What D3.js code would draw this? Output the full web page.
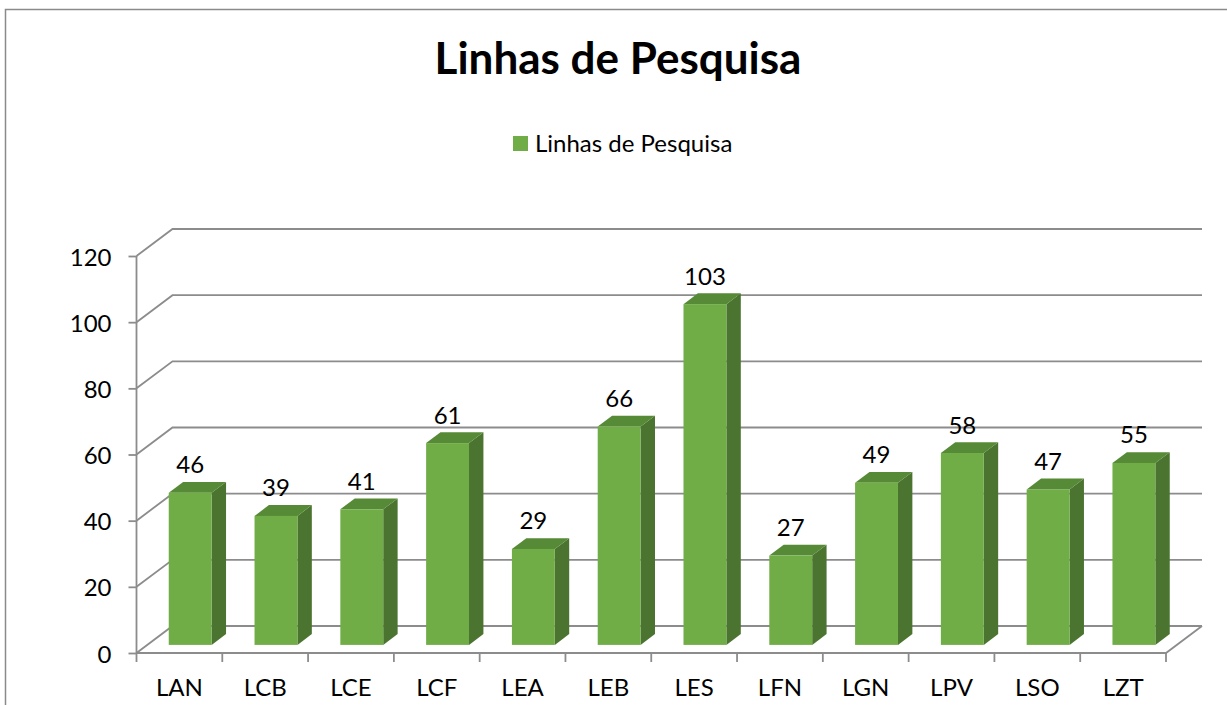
<!DOCTYPE html>
<html>
<head>
<meta charset="utf-8">
<script src="https://cdn.jsdelivr.net/npm/d3@7"></script>
<style>
  html, body { margin: 0; padding: 0; background: #fff; }
  svg { display: block; }
  text { font-family: Lato, "Open Sans", sans-serif; fill: #000; }
</style>
</head>
<body>
<svg id="chart" width="1227" height="705"></svg>
<script>
const chartTitle = "Linhas de Pesquisa";
const seriesName = "Linhas de Pesquisa";
const categories = ["LAN", "LCB", "LCE", "LCF", "LEA", "LEB", "LES", "LFN", "LGN", "LPV", "LSO", "LZT"];
const values = [46, 39, 41, 61, 29, 66, 103, 27, 49, 58, 47, 55];
const yTicks = [0, 20, 40, 60, 80, 100, 120];

const svg = d3.select("#chart");
const W = 1227, H = 705;
const FS = "24px";

// chart border
svg.append("rect").attr("x", 5.5).attr("y", 9.5).attr("width", W).attr("height", H)
  .attr("fill", "#fff").attr("stroke", "#8a8a8a").attr("stroke-width", 1.5);

// title
svg.append("text").attr("x", 618).attr("y", 74).attr("text-anchor", "middle")
  .style("font-weight", "bold").style("font-size", "44px").text(chartTitle);

// legend
svg.append("rect").attr("x", 513).attr("y", 136).attr("width", 15).attr("height", 15).attr("fill", "#70ad47");
svg.append("text").attr("x", 535).attr("y", 152).style("font-size", FS).text(seriesName);

// scales
const y = d3.scaleLinear().domain([0, 120]).range([653, 256]);
const x = d3.scaleBand().domain(categories).range([136.5, 1166]).padding(0);
const depthX = 36, depthY = -27;          // back-wall offset
const off = f => [f * depthX, f * depthY];

const gridColor = "#8c8c8c";
const g = svg.append("g");

// gridlines: left wall diagonal + back wall horizontal
yTicks.forEach(t => {
  const yy = y(t);
  g.append("polyline")
    .attr("points", [[x.range()[0], yy], [x.range()[0] + depthX, yy + depthY], [x.range()[1] + depthX, yy + depthY]].map(p => p.join(",")).join(" "))
    .attr("fill", "none").attr("stroke", gridColor).attr("stroke-width", 1.8);
});
// floor: front edge and right diagonal
g.append("polyline")
  .attr("points", [[x.range()[0], y(0)], [x.range()[1], y(0)], [x.range()[1] + depthX, y(0) + depthY]].map(p => p.join(",")).join(" "))
  .attr("fill", "none").attr("stroke", gridColor).attr("stroke-width", 1.8);

// y axis (front)
const yAxis = d3.axisLeft(y).tickValues(yTicks).tickSize(8).tickPadding(17);
const ya = svg.append("g").attr("transform", `translate(${x.range()[0]},0)`).call(yAxis);
ya.select(".domain").attr("stroke", gridColor).attr("stroke-width", 1.8).attr("d", `M-0,${y(120)}V${y(0)}`);
ya.selectAll(".tick line").attr("stroke", gridColor).attr("stroke-width", 1.8);
ya.selectAll(".tick text").style("font-size", FS).style("font-family", "Lato, sans-serif").attr("fill", "#000").attr("dy", "0.38em");

// x axis ticks at category boundaries
const bounds = categories.map(c => x(c)).concat([x.range()[1]]);
bounds.forEach(b => {
  svg.append("line").attr("x1", b).attr("x2", b).attr("y1", y(0)).attr("y2", y(0) + 9)
    .attr("stroke", gridColor).attr("stroke-width", 1.8);
});
svg.append("g").selectAll("text").data(categories).join("text")
  .attr("x", d => x(d) + x.bandwidth() / 2).attr("y", 696)
  .attr("text-anchor", "middle").style("font-size", FS).text(d => d);

// 3D bars
const f0 = 0.3, f1 = 0.7;
const bw = x.bandwidth() * 0.5;
const [ox0, oy0] = off(f0);
const [dx, dy] = [off(f1)[0] - ox0, off(f1)[1] - oy0];
const bars = svg.append("g");
categories.forEach((c, i) => {
  const v = values[i];
  const xl = x(c) + (x.bandwidth() - bw) / 2 + ox0;
  const xr = xl + bw;
  const yb = y(0) + oy0;
  const yt = y(v) + oy0;
  // side face
  bars.append("path").attr("d", `M${xr},${yb}L${xr + dx},${yb + dy}L${xr + dx},${yt + dy}L${xr},${yt}Z`)
    .attr("fill", "#4a7430");
  // top face
  bars.append("path").attr("d", `M${xl},${yt}L${xl + dx},${yt + dy}L${xr + dx},${yt + dy}L${xr},${yt}Z`)
    .attr("fill", "#568a36");
  // front face
  bars.append("rect").attr("x", xl).attr("y", yt).attr("width", bw).attr("height", yb - yt)
    .attr("fill", "#70ad47");
  // data label
  bars.append("text").attr("x", (xl + xr) / 2).attr("y", yt - 19.5)
    .attr("text-anchor", "middle").style("font-size", FS).text(v);
});
</script>
</body>
</html>
